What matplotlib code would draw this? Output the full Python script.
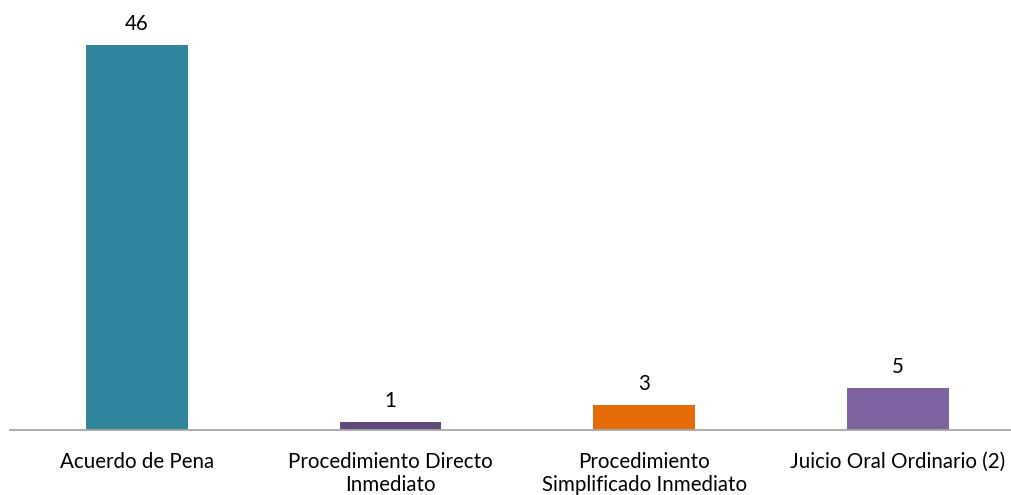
import matplotlib.pyplot as plt

categorias = ["Acuerdo de Pena", "Procedimiento Directo\nInmediato",
              "Procedimiento\nSimplificado Inmediato", "Juicio Oral Ordinario (2)"]
valores = [46, 1, 3, 5]
colores = ["#31859C", "#604A7B", "#E46C0A", "#8064A2"]

plt.rcParams['font.family'] = ['Lato', 'DejaVu Sans']

fig = plt.figure(figsize=(10.12, 4.95), dpi=100)
ax = fig.add_axes([10 / 1012, 65 / 495, 1002 / 1012, 420 / 495])

x = range(len(categorias))
barras = ax.bar(x, valores, width=0.4, color=colores)

for b, v in zip(barras, valores):
    ax.annotate(str(v), (b.get_x() + b.get_width() / 2, v), xytext=(0, 8),
                textcoords="offset points", ha="center", va="bottom", fontsize=14.8)

ax.set_xlim(-0.5, 3.45)
ax.set_ylim(0, 50.2)
ax.set_xticks(list(x))
ax.set_xticklabels(categorias, fontsize=14.8, linespacing=1.15)
ax.tick_params(axis="x", length=0, pad=16)
ax.set_yticks([])
for s in ["top", "right", "left"]:
    ax.spines[s].set_visible(False)
ax.spines["bottom"].set_color("#A6A6A6")
ax.spines["bottom"].set_linewidth(1.3)

fig.savefig("out.png", dpi=100)
